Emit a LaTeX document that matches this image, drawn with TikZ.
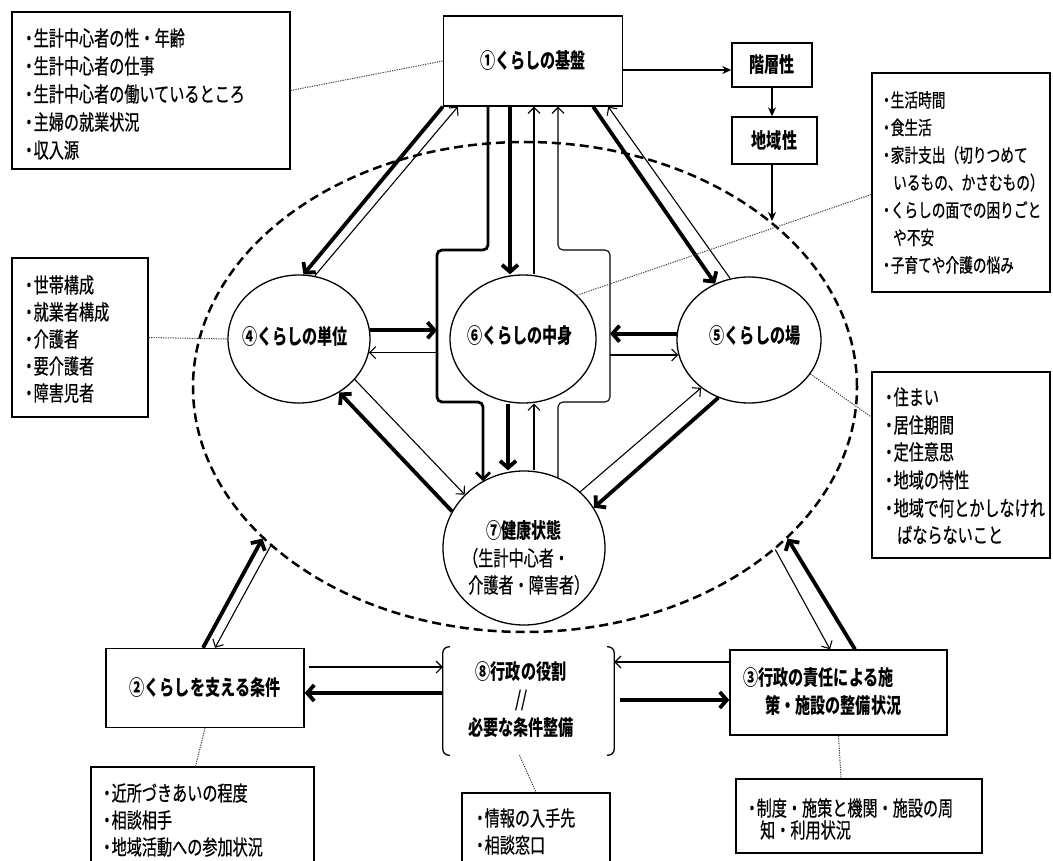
\documentclass[tikz,border=0pt]{standalone}
\usepackage{fontspec}
\setmainfont{Noto Sans CJK JP}[FakeStretch=0.72]
\newfontfamily\rfont{Noto Sans CJK JP}[FakeStretch=0.72, FakeBold=0.6]
\usetikzlibrary{shapes.geometric,arrows.meta,calc}
\newcommand{\bul}{\makebox[0.45em][c]{・}}
\tikzset{
  rf/.style={font=\rfont\fontsize{21pt}{24pt}\selectfont},
  bf/.style={font=\fontsize{21pt}{24pt}\selectfont\bfseries},
  box/.style={draw, line width=1.4pt, inner sep=0pt},
  circ/.style={draw, ellipse, line width=1.3pt, inner sep=0pt},
  item/.style={rf, inner sep=0pt, anchor=west},
  itemS/.style={item, font=\rfont\fontsize{19pt}{22pt}\selectfont},
  tlbl/.style={bf, inner sep=0pt},
  thk/.style={line width=3.8pt, -{Straight Barb[length=7pt,width=16pt]}},
  thn/.style={line width=1.1pt, -{Straight Barb[length=6pt,width=12pt]}},
  sarr/.style={line width=1.6pt, -{Stealth[length=9pt,width=8pt]}},
  bypass/.style={line width=2.8pt, rounded corners=5pt},
  dots/.style={line width=1pt, black!75, dash pattern=on 1.2pt off 1.2pt},
  bigell/.style={draw, ellipse, line width=2.5pt, dash pattern=on 9pt off 5pt, inner sep=0pt, minimum width=664pt, minimum height=490pt},
}
\begin{document}
\begin{tikzpicture}[x=1pt,y=-1pt]
\useasboundingbox (0,0) rectangle (1053,861);
\fill[white] (0,0) rectangle (1053,861);

% helper coordinates
\coordinate (cT) at (0,250);
\coordinate (cBt) at (0,402);
\coordinate (cL) at (437,0);
\coordinate (cR) at (610,0);
\coordinate (cA) at (488,0);
\coordinate (cB) at (510,0);
\coordinate (cC) at (534,0);
\coordinate (cD) at (558,0);
\coordinate (cE) at (483,0);
\coordinate (cF) at (508,0);
\coordinate (ka) at (0,70);
\coordinate (y1) at (0,667);
\coordinate (y2) at (0,693);
\coordinate (y3) at (0,662);
\coordinate (y4) at (0,700);

% big dashed ellipse
\node[bigell] (big) at (525,387) {};

% top-left list
\node[box, minimum width=278pt, minimum height=157pt] (tl) at (151,90.5) {};
\node[item] (tl1) at (24,38) {\bul 生計中心者の性・年齢};
\node[item] (tl2) at (24,66) {\bul 生計中心者の仕事};
\node[item] (tl3) at (24,94) {\bul 生計中心者の働いているところ};
\node[item] (tl4) at (24,122) {\bul 主婦の就業状況};
\node[item] (tl5) at (24,150) {\bul 収入源};

% main boxes
\node[box, bf, minimum width=179pt, minimum height=90pt] (b1) at (533,61) {①くらしの基盤};
\node[box, bf, minimum width=80pt, minimum height=44pt] (kaiso) at (772,65) {階層性};
\node[box, bf, minimum width=85pt, minimum height=47pt] (chiiki) at (774.5,140.5) {地域性};

% top-right list
\node[box, minimum width=178pt, minimum height=219pt] (tr) at (961,182.5) {};
\node[itemS] (tr1) at (882,100) {\bul 生活時間};
\node[itemS] (tr2) at (882,127.5) {\bul 食生活};
\node[itemS] (tr3) at (882,155) {\bul 家計支出（切りつめて};
\node[itemS] (tr4) at (893,182.5) {いるもの、かさむもの）};
\node[itemS] (tr5) at (882,210) {\bul くらしの面での困りごと};
\node[itemS] (tr6) at (893,237.5) {や不安};
\node[itemS] (tr7) at (882,265) {\bul 子育てや介護の悩み};

% left list
\node[box, minimum width=136pt, minimum height=159pt] (lbox) at (80,337.5) {};
\node[item] (lb1) at (24,285) {\bul 世帯構成};
\node[item] (lb2) at (24,312) {\bul 就業者構成};
\node[item] (lb3) at (24,339) {\bul 介護者};
\node[item] (lb4) at (24,366) {\bul 要介護者};
\node[item] (lb5) at (24,393) {\bul 障害児者};

% right list
\node[box, minimum width=178pt, minimum height=186pt] (sumai) at (961,465) {};
\node[item] (sm1) at (884,397) {\bul 住まい};
\node[item] (sm2) at (884,425) {\bul 居住期間};
\node[item] (sm3) at (884,452) {\bul 定住意思};
\node[item] (sm4) at (884,480) {\bul 地域の特性};
\node[item] (sm5) at (884,508) {\bul 地域で何とかしなけれ};
\node[item] (sm6) at (897,535) {ばならないこと};

% ellipses
\node[circ, minimum width=142pt, minimum height=128pt] (e4) at (299,339) {};
\node[tlbl] (e4t) at (295,336) {④くらしの単位};
\node[circ, minimum width=146pt, minimum height=128pt] (e6) at (523,339) {};
\node[tlbl] (e6t) at (520,336) {⑥くらしの中身};
\node[circ, minimum width=144pt, minimum height=126pt] (e5) at (749,340) {};
\node[tlbl] (e5t) at (755,336) {⑤くらしの場};
\node[circ, minimum width=162pt, minimum height=154pt] (e7) at (524,548) {};
\node[tlbl] (e7t1) at (524,530) {⑦健康状態};
\node[item] (e7t2) at (463,558) {（生計中心者・};
\node[item] (e7t3) at (468,585) {介護者・障害者）};

% bottom boxes
\node[box, bf, minimum width=198pt, minimum height=79pt] (b2) at (205,688) {②くらしを支える条件};
\node[box, minimum width=217pt, minimum height=85pt] (b3) at (838.5,692.5) {};
\node[tlbl, anchor=west] (b3t1) at (743,678) {③行政の責任による施};
\node[tlbl, anchor=west] (b3t2) at (765,705) {策・施設の整備状況};

% 8 bracket
\node[minimum width=171pt, minimum height=108pt, inner sep=0pt] (e8) at (528.5,701) {};
\draw[line width=1.3pt, rounded corners=6pt] ([xshift=7pt]e8.north west) -- (e8.north west) -- (e8.south west) -- ([xshift=7pt]e8.south west);
\draw[line width=1.3pt, rounded corners=6pt] ([xshift=-7pt]e8.north east) -- (e8.north east) -- (e8.south east) -- ([xshift=-7pt]e8.south east);
\node[tlbl] (e8t1) at (521,672) {⑧行政の役割};
\node[rf, inner sep=0pt] (e8t2) at (521,700) {//};
\node[tlbl] (e8t3) at (521,728) {必要な条件整備};

% bottom lists
\node[box, minimum width=223pt, minimum height=99pt] (bl) at (202.5,816.5) {};
\node[item] (bl1) at (102,793) {\bul 近所づきあいの程度};
\node[item] (bl2) at (102,820) {\bul 相談相手};
\node[item] (bl3) at (102,847) {\bul 地域活動への参加状況};
\node[box, minimum width=148pt, minimum height=73pt] (bm) at (536,829.5) {};
\node[item] (bm1) at (475,818) {\bul 情報の入手先};
\node[item] (bm2) at (475,845) {\bul 相談窓口};
\node[box, line width=2.6pt, minimum width=246pt, minimum height=74pt] (br) at (859,816) {};
\node[item] (br1) at (747,808) {\bul 制度・施策と機関・施設の周};
\node[item] (br2) at (760,830) {知・利用状況};

% connectors: top
\draw[sarr] (b1.east |- ka) -- (kaiso.west |- ka);
\draw[sarr, line width=1.3pt] (kaiso.south) -- (kaiso.south |- chiiki.north);
\draw[sarr, line width=1.3pt] (chiiki.south -| kaiso.south) -- (kaiso.south |- big.34);

% 1 - 4
\draw[thk] (b1.south west) -- (e4.86);
\draw[thn] (e4.76) -- ([xshift=15pt]b1.south west);
% 1 - 5
\draw[thk] ([xshift=-30pt]b1.south east) -- (e5.121);
\draw[thn] (e5.107) -- ([xshift=-15pt]b1.south east);
% 1 - 6
\draw[thk] (cB |- b1.south) -- (cB |- e6.north);
\draw[thn] (cC |- e6.north) -- (cC |- b1.south);
% bypasses
\draw[bypass, -{Straight Barb[length=7pt,width=14pt]}] (cA |- b1.south) -- (cA |- cT) -- (cL |- cT) -- (cL |- cBt) -- (cE |- cBt) -- (cE |- e7.122);
\draw[thn, rounded corners=5pt] (cD |- e7.64) -- (cD |- cBt) -- (cR |- cBt) -- (cR |- cT) -- (cD |- cT) -- (cD |- b1.south);
% 6 - 7
\draw[thk] (cF |- e6.south) -- (cF |- e7.north);
\draw[thn] (cC |- e7.north) -- (cC |- e6.south);
% 4 - 6, 5 - 6
\draw[thk] (e4.7) -- (cL |- e4.7);
\draw[thn] (cL |- e4.-11) -- (e4.-11);
\draw[thk] (e5.175) -- (cR |- e5.175);
\draw[thn] (cR |- e5.-168) -- (e5.-168);
% 4 - 7, 5 - 7
\draw[thk] (e7.153) -- (e4.-53);
\draw[thn] (e4.-36) -- (e7.138);
\draw[thk] (e5.242) -- (e7.30);
\draw[thn] (e7.45) -- (e5.225);
% outer ellipse - 2, 3
\draw[thk] ([xshift=-2pt]b2.north) -- (big.210);
\draw[thn] (big.212) -- ([xshift=10pt]b2.north);
\draw[thk] ([xshift=16.5pt]b3.north) -- (big.330);
\draw[thn] (big.327) -- ([xshift=-8.5pt]b3.north);
% 2 - 8 - 3
\draw[thn, shorten <=4pt] (b2.east |- y1) -- (e8.west |- y1);
\draw[thk] (e8.west |- y2) -- (b2.east |- y2);
\draw[thn] (b3.west |- y3) -- (e8.east |- y3);
\draw[thk, shorten <=6pt] (e8.east |- y4) -- (b3.west |- y4);

% dotted links
\draw[dots] (tl.east) -- (b1.west);
\draw[dots] (e6.39) -- ([yshift=-12pt]tr.west);
\draw[dots] (lbox.east) -- (e4.west);
\draw[dots] (e5.-29) -- ([yshift=48pt]sumai.west);
\draw[dots] (b2.south) -- ([xshift=-7pt]bl.north);
\draw[dots] ([xshift=-9pt]e8.south) -- (bm.north);
\draw[dots] (b3.south) -- ([xshift=-18pt]br.north);
\end{tikzpicture}
\end{document}
